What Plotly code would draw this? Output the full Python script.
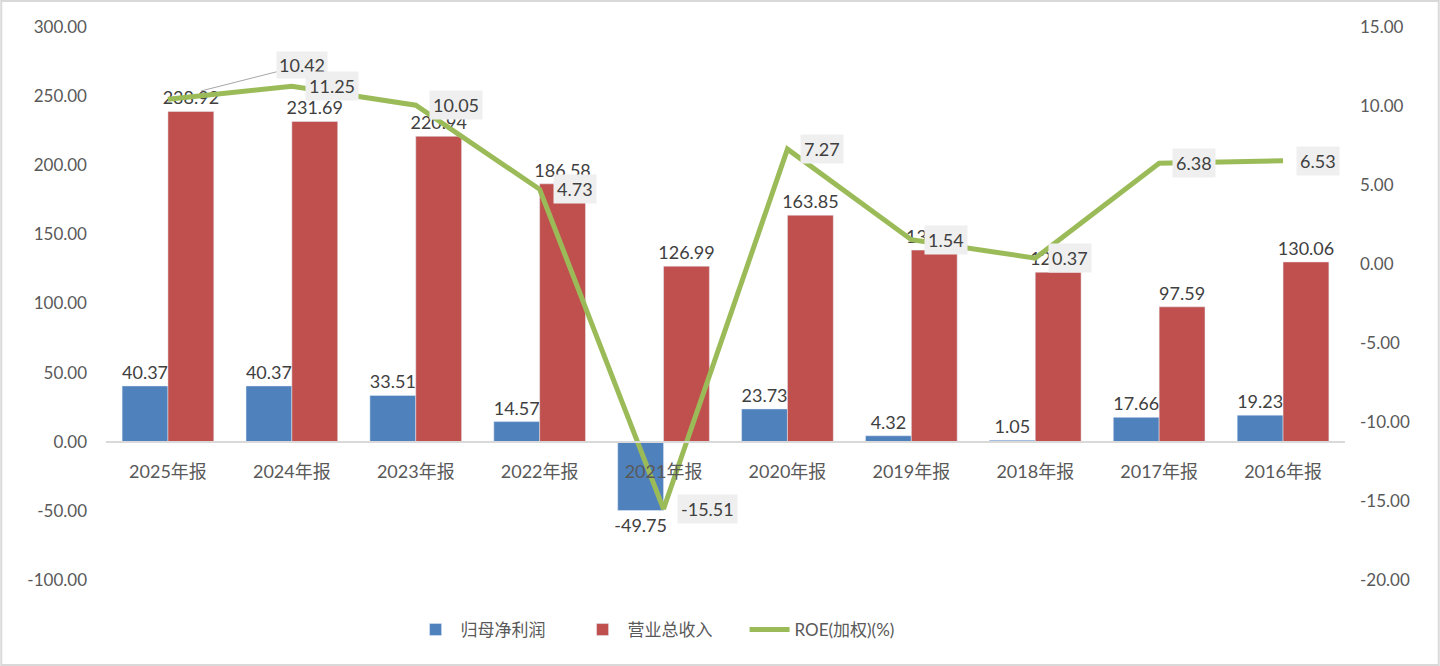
import plotly.graph_objects as go

categories = ['2025年报', '2024年报', '2023年报', '2022年报', '2021年报',
              '2020年报', '2019年报', '2018年报', '2017年报', '2016年报']
net_profit = [40.37, 40.37, 33.51, 14.57, -49.75, 23.73, 4.32, 1.05, 17.66, 19.23]
revenue    = [238.92, 231.69, 220.94, 186.58, 126.99, 163.85, 138.62, 122.60, 97.59, 130.06]
roe        = [10.42, 11.25, 10.05, 4.73, -15.51, 7.27, 1.54, 0.37, 6.38, 6.53]

left_ticks  = [-100, -50, 0, 50, 100, 150, 200, 250, 300]
right_ticks = [-20, -15, -10, -5, 0, 5, 10, 15]

W, H = 1440, 666
ML, MR, MT, MB = 106, 95, 27, 86
FONT = 'Lato, "Noto Sans CJK SC", sans-serif'
TICK_COLOR = '#595959'
LABEL_COLOR = '#404040'

fig = go.Figure()
fig.add_trace(go.Bar(x=categories, y=net_profit, name='归母净利润',
                     marker_color='#4F81BD', texttemplate='%{y:.2f}',
                     textposition='outside', cliponaxis=False, constraintext='none',
                     textfont=dict(size=18, color=LABEL_COLOR, family=FONT)))
fig.add_trace(go.Bar(x=categories, y=revenue, name='营业总收入',
                     marker_color='#C0504D', texttemplate='%{y:.2f}',
                     textposition='outside', cliponaxis=False, constraintext='none',
                     textfont=dict(size=18, color=LABEL_COLOR, family=FONT)))
fig.add_trace(go.Scatter(x=categories, y=roe, name='ROE(加权)(%)', yaxis='y2',
                         mode='lines', line=dict(color='#9BBB59', width=5),
                         cliponaxis=False))

# ROE labels in grey boxes, right of each point
annotations = []
for i, (c, v) in enumerate(zip(categories, roe)):
    if i == 0:
        annotations.append(dict(x=c, y=v, xref='x', yref='y2', text=f'{v:.2f}',
                                showarrow=True, arrowhead=0, arrowwidth=1,
                                arrowcolor='#a6a6a6', ax=134, ay=-34, standoff=34,
                                bgcolor='#efefef', borderpad=2,
                                font=dict(size=18, color=LABEL_COLOR, family=FONT)))
    else:
        annotations.append(dict(x=c, y=v, xref='x', yref='y2', text=f'{v:.2f}',
                                showarrow=False, xanchor='left', xshift=13,
                                yanchor='middle', bgcolor='#efefef', borderpad=3,
                                font=dict(size=18, color=LABEL_COLOR, family=FONT)))

pw = W - ML - MR
ph = H - MT - MB

fig.update_layout(
    width=W, height=H,
    margin=dict(l=ML, r=MR, t=MT, b=MB, autoexpand=False),
    paper_bgcolor='white', plot_bgcolor='white',
    font=dict(family=FONT, size=17, color=TICK_COLOR),
    barmode='group', bargap=0.26, bargroupgap=0,
    showlegend=True,
    legend=dict(orientation='h', x=0.448, xanchor='center', y=-50 / ph,
                yanchor='middle', font=dict(size=17, color=TICK_COLOR),
                itemwidth=40, entrywidth=112, traceorder='normal'),
    xaxis=dict(type='category', anchor='free', position=100 / 400,
               showline=True, linecolor='#d9d9d9', linewidth=1.5,
               showgrid=False, ticks='', ticklabelstandoff=14,
               tickfont=dict(size=18, color=TICK_COLOR)),
    yaxis=dict(range=[-100, 300], tickvals=left_ticks,
               ticktext=[f'{v:.2f}' for v in left_ticks],
               showgrid=False, zeroline=False,
               showline=False, ticklabelstandoff=18,
               tickfont=dict(size=17, color=TICK_COLOR)),
    yaxis2=dict(range=[-20, 15], tickvals=right_ticks, overlaying='y',
                ticktext=[f'{v:.2f}' for v in right_ticks],
                side='right', showgrid=False,
                zeroline=False, showline=False, ticklabelstandoff=14,
                tickfont=dict(size=17, color=TICK_COLOR)),
    annotations=annotations,
    shapes=[dict(type='rect', xref='paper', yref='paper',
                 x0=-ML / pw + 0.001, x1=1 + MR / pw - 0.001,
                 y0=-MB / ph + 0.002, y1=1 + MT / ph - 0.002,
                 line=dict(color='#d9d9d9', width=2), layer='below')],
)

fig.write_html('out.html', config={'displayModeBar': False},
               post_script="document.body.style.margin='0';")
